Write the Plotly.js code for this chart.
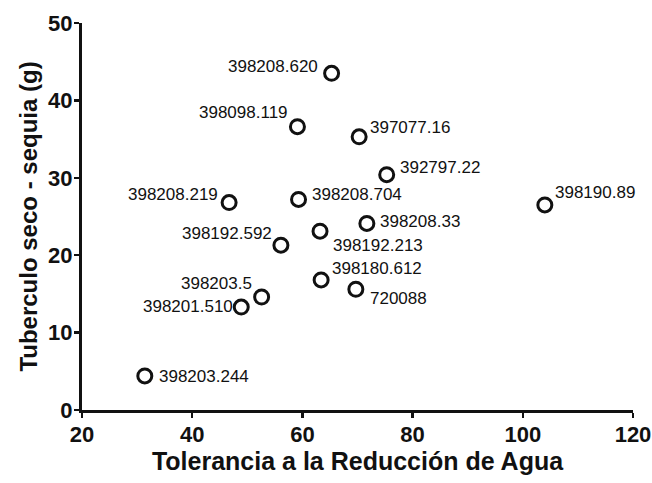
<!DOCTYPE html>
<html>
<head>
<meta charset="utf-8">
<script src="https://cdn.plot.ly/plotly-3.0.1.min.js"></script>
<style>html,body{margin:0;padding:0;background:#fff;}#chart{width:652px;height:483px;}</style>
</head>
<body>
<div id="chart"></div>
<script>
// Data
const clones = ["398208.620","398098.119","397077.16","398208.219","398208.704","392797.22","398190.89",
  "398208.33","398192.592","398192.213","398180.612","720088","398203.5","398201.510","398203.244"];
const tolerancia = [65.3, 59.1, 70.3, 46.7, 59.3, 75.3, 104.0, 71.7, 56.1, 63.2, 63.4, 69.7, 52.6, 48.9, 31.4];
const tuberculoSeco = [43.5, 36.6, 35.3, 26.8, 27.2, 30.4, 26.5, 24.1, 21.3, 23.1, 16.8, 15.6, 14.6, 13.3, 4.4];
const xTicks = [20, 40, 60, 80, 100, 120];
const yTicks = [0, 10, 20, 30, 40, 50];

// label placement (style only, pixel offsets from the marker)
const labelDx = [-12, -7, 9, -9, 11, 11, 8, 11, -7, 11, 9, 12, -8, -6, 12];
const labelDy = [-7, -14, -9, -8, -5, -7, -12, -2, -12, 14, -11, 9, -14, -1, 1];

const FONT = 'Liberation Sans, Arial, sans-serif';
const annotations = clones.map((c, i) => ({
  x: tolerancia[i], y: tuberculoSeco[i], xref: 'x', yref: 'y',
  text: c, showarrow: false,
  xanchor: labelDx[i] < 0 ? 'right' : 'left', yanchor: 'middle',
  xshift: labelDx[i], yshift: -labelDy[i],
  font: {family: FONT, size: 17, color: '#111'}
}));

const trace = {
  x: tolerancia, y: tuberculoSeco, mode: 'markers', type: 'scatter',
  marker: {symbol: 'circle', size: 14, color: 'white', line: {color: '#111', width: 3}},
  hoverinfo: 'none', cliponaxis: false
};

const axisFont = {family: FONT, size: 22, color: '#111'};
const layout = {
  width: 652, height: 483,
  margin: {l: 82, r: 19, t: 23, b: 73},
  paper_bgcolor: 'white', plot_bgcolor: 'white',
  showlegend: false,
  xaxis: {
    range: [20, 120], tickvals: xTicks, ticktext: xTicks.map(v => '<b>' + v + '</b>'),
    showgrid: false, zeroline: false, showline: true, linecolor: '#111', linewidth: 3,
    ticks: 'outside', ticklen: 5, tickwidth: 2.5, tickcolor: '#111',
    tickfont: axisFont, ticklabelstandoff: -2,
    title: {text: '<b>Tolerancia a la Reducción de Agua</b>', standoff: 4,
      font: {family: FONT, size: 25, color: '#111'}}
  },
  yaxis: {
    range: [0, 50], tickvals: yTicks, ticktext: yTicks.map(v => '<b>' + v + '</b>'),
    showgrid: false, zeroline: false, showline: true, linecolor: '#111', linewidth: 3,
    ticks: 'outside', ticklen: 5, tickwidth: 2.5, tickcolor: '#111',
    tickfont: axisFont, ticklabelstandoff: -3,
    title: {text: '<b>Tuberculo seco - sequia (g)</b>', standoff: 4,
      font: {family: FONT, size: 24, color: '#111'}}
  },
  annotations: annotations
};

Plotly.newPlot('chart', [trace], layout, {displayModeBar: false, staticPlot: true});
</script>
</body>
</html>
